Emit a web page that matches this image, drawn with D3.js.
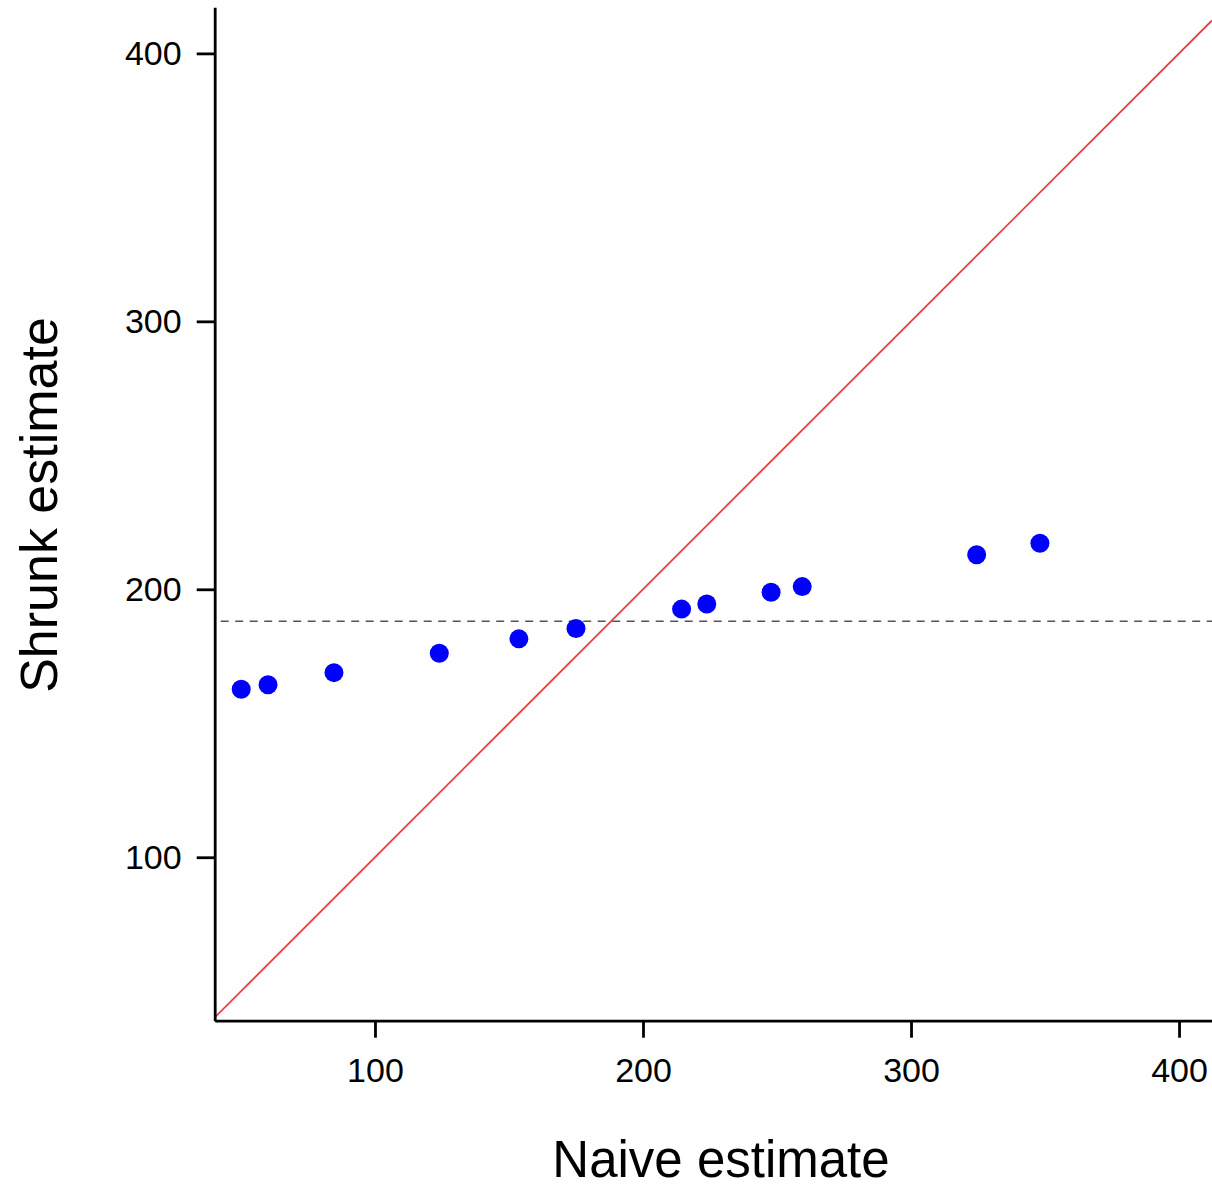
<!DOCTYPE html>
<html>
<head>
<meta charset="utf-8">
<script src="https://cdn.jsdelivr.net/npm/d3@7"></script>
<style>
  html, body { margin: 0; padding: 0; background: #ffffff; }
  svg { display: block; }
  text { font-family: "Liberation Sans", Arial, sans-serif; fill: #000; }
</style>
</head>
<body>
<svg id="chart" width="1212" height="1188"></svg>
<script>
// Naive vs shrunk estimates for each group
const naive  = [50.1, 60.1, 84.7, 124.0, 153.7, 175.0, 214.4, 223.8, 247.8, 259.4, 324.5, 348.1];
const shrunk = [162.7, 164.4, 168.9, 176.1, 181.5, 185.4, 192.6, 194.5, 198.9, 201.0, 212.9, 217.2];
const grandMean = [188.1];
const xTicks = [100, 200, 300, 400];
const yTicks = [100, 200, 300, 400];
const xDomain = [40.2, 412.3];
const yDomain = [39.0, 417.2];

const svg = d3.select("#chart");
const plotLeft = 214.7, plotRight = 1212, plotTop = 7.3, plotBottom = 1020.7;

const x = d3.scaleLinear().domain(xDomain).range([plotLeft, plotRight]);
const y = d3.scaleLinear().domain(yDomain).range([plotBottom, plotTop]);

// identity line y = x
const lo = Math.max(xDomain[0], yDomain[0]);
const hi = Math.min(xDomain[1], yDomain[1]);
svg.append("line")
  .attr("x1", x(lo)).attr("y1", y(lo))
  .attr("x2", x(hi)).attr("y2", y(hi))
  .attr("stroke", "#e53b3b").attr("stroke-width", 1.7);

// grand mean reference
svg.selectAll("line.mean").data(grandMean).join("line")
  .attr("class", "mean")
  .attr("x1", plotLeft + 6).attr("x2", plotRight)
  .attr("y1", d => y(d)).attr("y2", d => y(d))
  .attr("stroke", "#555").attr("stroke-width", 1.4)
  .attr("stroke-dasharray", "8,6.5");

// points
svg.selectAll("circle.pt").data(naive.map((v, i) => [v, shrunk[i]])).join("circle")
  .attr("class", "pt")
  .attr("cx", d => x(d[0])).attr("cy", d => y(d[1]))
  .attr("r", 9.5).attr("fill", "#0000ff");

// axes
const xAxis = svg.append("g").attr("transform", `translate(0,${plotBottom})`)
  .call(d3.axisBottom(x).tickValues(xTicks).tickSize(17).tickPadding(20).tickSizeOuter(0));
const yAxis = svg.append("g").attr("transform", `translate(${plotLeft},0)`)
  .call(d3.axisLeft(y).tickValues(yTicks).tickSize(18).tickPadding(15).tickSizeOuter(0));

[xAxis, yAxis].forEach(g => {
  g.select(".domain").attr("stroke", "#000").attr("stroke-width", 2.8);
  g.selectAll(".tick line").attr("stroke", "#000").attr("stroke-width", 2.8);
  g.selectAll(".tick text").attr("font-size", 34).attr("fill", "#000")
    .attr("font-family", "'Liberation Sans', Arial, sans-serif");
});

// axis titles
svg.append("text")
  .attr("x", 721).attr("y", 1177)
  .attr("text-anchor", "middle").attr("font-size", 51)
  .text("Naive estimate");
svg.append("text")
  .attr("transform", "translate(57,505) rotate(-90)")
  .attr("text-anchor", "middle").attr("font-size", 52)
  .text("Shrunk estimate");
</script>
</body>
</html>
